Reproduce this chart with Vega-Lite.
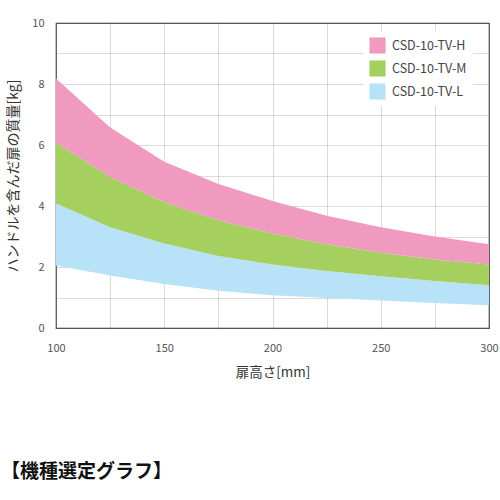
{
  "$schema": "https://vega.github.io/schema/vega-lite/v6.json",
  "autosize": "none",
  "width": 433,
  "height": 305,
  "padding": {"left": 56, "top": 23, "right": 11, "bottom": 172},
  "background": "white",
  "title": {
    "text": "【機種選定グラフ】",
    "orient": "bottom",
    "anchor": "start",
    "frame": "group",
    "dx": -55,
    "offset": 84,
    "fontSize": 19,
    "fontWeight": "bold",
    "color": "#111",
    "font": "Noto Sans CJK JP"
  },
  "data": {
    "values": [
      {"model": "CSD-10-TV-L", "x": 100, "lo": 2.05, "hi": 4.08},
      {"model": "CSD-10-TV-L", "x": 125, "lo": 1.72, "hi": 3.3},
      {"model": "CSD-10-TV-L", "x": 150, "lo": 1.44, "hi": 2.77},
      {"model": "CSD-10-TV-L", "x": 175, "lo": 1.22, "hi": 2.36},
      {"model": "CSD-10-TV-L", "x": 200, "lo": 1.07, "hi": 2.08},
      {"model": "CSD-10-TV-L", "x": 225, "lo": 0.98, "hi": 1.87},
      {"model": "CSD-10-TV-L", "x": 250, "lo": 0.9, "hi": 1.7},
      {"model": "CSD-10-TV-L", "x": 275, "lo": 0.82, "hi": 1.54},
      {"model": "CSD-10-TV-L", "x": 300, "lo": 0.75, "hi": 1.4},
      {"model": "CSD-10-TV-M", "x": 100, "lo": 4.08, "hi": 6.08},
      {"model": "CSD-10-TV-M", "x": 125, "lo": 3.3, "hi": 4.95},
      {"model": "CSD-10-TV-M", "x": 150, "lo": 2.77, "hi": 4.12},
      {"model": "CSD-10-TV-M", "x": 175, "lo": 2.36, "hi": 3.53},
      {"model": "CSD-10-TV-M", "x": 200, "lo": 2.08, "hi": 3.1},
      {"model": "CSD-10-TV-M", "x": 225, "lo": 1.87, "hi": 2.75},
      {"model": "CSD-10-TV-M", "x": 250, "lo": 1.7, "hi": 2.47},
      {"model": "CSD-10-TV-M", "x": 275, "lo": 1.54, "hi": 2.25},
      {"model": "CSD-10-TV-M", "x": 300, "lo": 1.4, "hi": 2.08},
      {"model": "CSD-10-TV-H", "x": 100, "lo": 6.08, "hi": 8.18},
      {"model": "CSD-10-TV-H", "x": 125, "lo": 4.95, "hi": 6.57},
      {"model": "CSD-10-TV-H", "x": 150, "lo": 4.12, "hi": 5.45},
      {"model": "CSD-10-TV-H", "x": 175, "lo": 3.53, "hi": 4.72},
      {"model": "CSD-10-TV-H", "x": 200, "lo": 3.1, "hi": 4.16},
      {"model": "CSD-10-TV-H", "x": 225, "lo": 2.75, "hi": 3.68},
      {"model": "CSD-10-TV-H", "x": 250, "lo": 2.47, "hi": 3.3},
      {"model": "CSD-10-TV-H", "x": 275, "lo": 2.25, "hi": 3.0},
      {"model": "CSD-10-TV-H", "x": 300, "lo": 2.08, "hi": 2.75}
    ]
  },
  "mark": {"type": "area", "opacity": 1},
  "encoding": {
    "x": {
      "field": "x",
      "type": "quantitative",
      "scale": {"domain": [100, 300], "nice": false},
      "axis": {
        "values": [100, 125, 150, 175, 200, 225, 250, 275, 300],
        "labelExpr": "datum.value % 50 == 0 ? datum.label : ''",
        "labelFlush": false,
        "labelOverlap": false,
        "labelPadding": 14,
        "title": "扉高さ[mm]",
        "titlePadding": 12
      }
    },
    "y": {
      "field": "lo",
      "type": "quantitative",
      "scale": {"domain": [0, 10], "nice": false},
      "axis": {
        "values": [0, 1, 2, 3, 4, 5, 6, 7, 8, 9, 10],
        "labelExpr": "datum.value % 2 == 0 ? datum.label : ''",
        "labelFlush": false,
        "labelPadding": 12,
        "title": "ハンドルを含んだ扉の質量[kg]",
        "titleFontSize": 14,
        "titlePadding": 11
      }
    },
    "y2": {"field": "hi"},
    "color": {
      "field": "model",
      "type": "nominal",
      "scale": {
        "domain": ["CSD-10-TV-H", "CSD-10-TV-M", "CSD-10-TV-L"],
        "range": ["#f09abf", "#a5cf5f", "#b8e2f8"]
      },
      "legend": {
        "title": null,
        "orient": "none",
        "legendX": 307,
        "legendY": 8,
        "symbolType": "square",
        "symbolSize": 260,
        "symbolOpacity": 1,
        "symbolStrokeWidth": 0,
        "rowPadding": 6,
        "labelFontSize": 12.5,
        "labelColor": "#444",
        "labelOffset": 6,
        "fillColor": "white",
        "padding": 6
      }
    }
  },
  "config": {
    "font": "Noto Sans CJK JP",
    "view": {"stroke": "#333", "strokeWidth": 1.2},
    "axis": {
      "grid": true,
      "gridColor": "#999",
      "gridOpacity": 0.35,
      "zindex": 1,
      "ticks": false,
      "domain": false,
      "labelColor": "#555",
      "labelFontSize": 11,
      "titleColor": "#333",
      "titleFontSize": 13.5,
      "titleFontWeight": "normal"
    }
  }
}
